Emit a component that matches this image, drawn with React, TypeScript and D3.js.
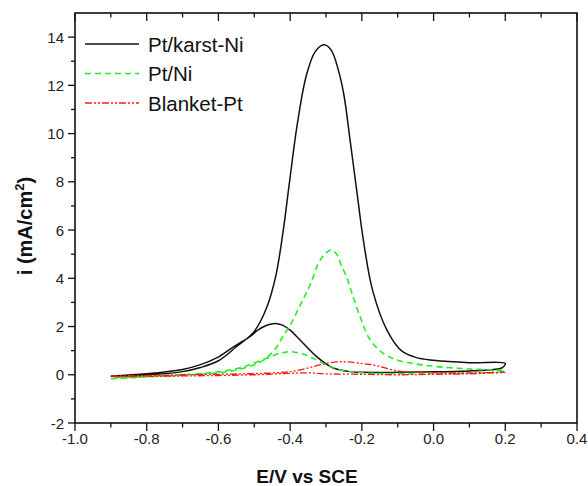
import React from "react";
import * as d3 from "d3";

const xTicks = [-1.0, -0.8, -0.6, -0.4, -0.2, 0.0, 0.2, 0.4];
const xMinor = [-0.9, -0.7, -0.5, -0.3, -0.1, 0.1, 0.3];
const yTicks = [-2, 0, 2, 4, 6, 8, 10, 12, 14];
const yMinor = [-1, 1, 3, 5, 7, 9, 11, 13];

// Pt/karst-Ni: forward scan then reverse scan [E, i]
const karstE = [
  -0.9, -0.8, -0.7, -0.65, -0.6, -0.55, -0.5, -0.465, -0.44, -0.42, -0.4, -0.38, -0.355, -0.33, -0.305, -0.285, -0.265, -0.25, -0.233, -0.214, -0.196, -0.17, -0.13, -0.09, -0.05, 0.0, 0.1, 0.2,
  0.19, 0.15, 0.1, 0.0, -0.1, -0.2, -0.233, -0.26, -0.28, -0.3, -0.326, -0.35, -0.373, -0.4, -0.42, -0.442, -0.465, -0.49, -0.512, -0.535, -0.559, -0.605, -0.65, -0.7, -0.8, -0.9,
];
const karstI = [
  -0.06, -0.01, 0.13, 0.3, 0.58, 1.16, 1.8, 2.8, 4.1, 5.9, 8.2, 10.4, 12.4, 13.4, 13.68, 13.45, 12.6, 11.6, 9.75, 7.6, 5.6, 3.5, 1.85, 1.0, 0.72, 0.6, 0.5, 0.47,
  0.28, 0.2, 0.16, 0.12, 0.1, 0.1, 0.13, 0.2, 0.28, 0.45, 0.75, 1.1, 1.45, 1.85, 2.05, 2.13, 2.05, 1.85, 1.58, 1.37, 1.15, 0.7, 0.42, 0.22, 0.04, -0.05,
];

// Pt/Ni
const niE = [
  -0.9, -0.8, -0.7, -0.6, -0.55, -0.5, -0.47, -0.44, -0.42, -0.4, -0.37, -0.345, -0.32, -0.3, -0.285, -0.27, -0.256, -0.24, -0.228, -0.205, -0.177, -0.14, -0.1, -0.05, 0.0, 0.1, 0.2,
  0.15, 0.1, 0.0, -0.1, -0.2, -0.26, -0.308, -0.345, -0.37, -0.4, -0.43, -0.465, -0.5, -0.53, -0.596, -0.7, -0.8, -0.9,
];
const niI = [
  -0.16, -0.09, -0.02, 0.08, 0.2, 0.42, 0.65, 1.1, 1.6, 2.05, 2.95, 3.7, 4.65, 5.05, 5.18, 5.0, 4.5, 3.95, 3.4, 2.41, 1.45, 0.89, 0.6, 0.45, 0.35, 0.24, 0.16,
  0.08, 0.06, 0.05, 0.05, 0.08, 0.2, 0.48, 0.75, 0.88, 0.96, 0.88, 0.68, 0.5, 0.33, 0.13, 0.0, -0.07, -0.12,
];

// Blanket-Pt
const blanketE = [
  -0.9, -0.8, -0.7, -0.6, -0.5, -0.42, -0.382, -0.335, -0.298, -0.26, -0.23, -0.19, -0.159, -0.12, -0.08, 0.0, 0.1, 0.2,
  0.1, 0.0, -0.1, -0.2, -0.3, -0.35, -0.4, -0.5, -0.6, -0.7, -0.9,
];
const blanketI = [
  -0.05, -0.03, 0.0, 0.02, 0.05, 0.1, 0.17, 0.34, 0.48, 0.54, 0.52, 0.45, 0.38, 0.22, 0.13, 0.09, 0.08, 0.1,
  0.04, 0.02, 0.0, 0.02, 0.04, 0.08, 0.06, 0.0, -0.03, -0.05, -0.08,
];

const seriesNames = ["Pt/karst-Ni", "Pt/Ni", "Blanket-Pt"];

const W = 588, H = 486;
const left = 75, right = 577, top = 13, bottom = 423;
const font = "'Liberation Sans', Arial, Helvetica, sans-serif";

export default function App() {
  const x = d3.scaleLinear().domain([-1.0, 0.4]).range([left, right]);
  const y = d3.scaleLinear().domain([-2, 15]).range([bottom, top]);
  const line = d3
    .line<[number, number]>()
    .x((d) => x(d[0]))
    .y((d) => y(d[1]))
    .curve(d3.curveCatmullRom.alpha(0.5));

  const series = [
    { name: seriesNames[0], E: karstE, I: karstI, color: "#111111", dash: "none", w: 1.5 },
    { name: seriesNames[1], E: niE, I: niI, color: "#22ee22", dash: "6,4", w: 1.6 },
    { name: seriesNames[2], E: blanketE, I: blanketI, color: "#ff1a1a", dash: "7,2,2,2,2,2", w: 1.3 },
  ];

  const fmtX = (v: number) => v.toFixed(1);

  return (
    <svg width={W} height={H} style={{ position: "absolute", left: 0, top: 0, background: "#fff" }} fontFamily={font}>
      <rect x={0} y={0} width={W} height={H} fill="#fff" />
      {series.map((s) => (
        <path
          key={s.name}
          d={line(s.E.map((e, k) => [e, s.I[k]] as [number, number])) || ""}
          fill="none"
          stroke={s.color}
          strokeWidth={s.w}
          strokeDasharray={s.dash}
          strokeLinejoin="round"
        />
      ))}
      <rect x={left} y={top} width={right - left} height={bottom - top} fill="none" stroke="#111" strokeWidth={1.6} />
      {xTicks.map((t) => (
        <g key={"xb" + t}>
          <line x1={x(t)} x2={x(t)} y1={bottom} y2={bottom + 8} stroke="#111" strokeWidth={1.3} />
          <line x1={x(t)} x2={x(t)} y1={top} y2={top + 8} stroke="#111" strokeWidth={1.3} />
          <text x={x(t)} y={bottom + 21} fontSize={15} textAnchor="middle" fill="#222">
            {fmtX(t)}
          </text>
        </g>
      ))}
      {xMinor.map((t) => (
        <g key={"xm" + t}>
          <line x1={x(t)} x2={x(t)} y1={bottom} y2={bottom + 4.5} stroke="#111" strokeWidth={1.3} />
          <line x1={x(t)} x2={x(t)} y1={top} y2={top + 4.5} stroke="#111" strokeWidth={1.3} />
        </g>
      ))}
      {yTicks.map((t) => (
        <g key={"y" + t}>
          <line x1={left - 7} x2={left} y1={y(t)} y2={y(t)} stroke="#111" strokeWidth={1.3} />
          <text x={left - 11} y={y(t) + 5.5} fontSize={15} textAnchor="end" fill="#222">
            {t}
          </text>
        </g>
      ))}
      {yMinor.map((t) => (
        <line key={"ym" + t} x1={left - 4} x2={left} y1={y(t)} y2={y(t)} stroke="#111" strokeWidth={1.3} />
      ))}
      <text x={307} y={483} fontSize={19} fontWeight="bold" textAnchor="middle" fill="#111">
        E/V vs SCE
      </text>
      <text
        transform={`translate(32, 226) rotate(-90)`}
        fontSize={20}
        fontWeight="bold"
        textAnchor="middle"
        fill="#111"
      >
        i (mA/cm
        <tspan fontSize={13} dy={-8}>2</tspan>
        <tspan dy={8}>)</tspan>
      </text>
      {series.map((s, k) => (
        <g key={"lg" + s.name} transform={`translate(0, ${44 + k * 29.5})`}>
          <line x1={85} x2={139} y1={0} y2={0} stroke={s.color} strokeWidth={s.w} strokeDasharray={s.dash} />
          <text x={148} y={7.5} fontSize={20.5} fill="#111">
            {s.name}
          </text>
        </g>
      ))}
    </svg>
  );
}
